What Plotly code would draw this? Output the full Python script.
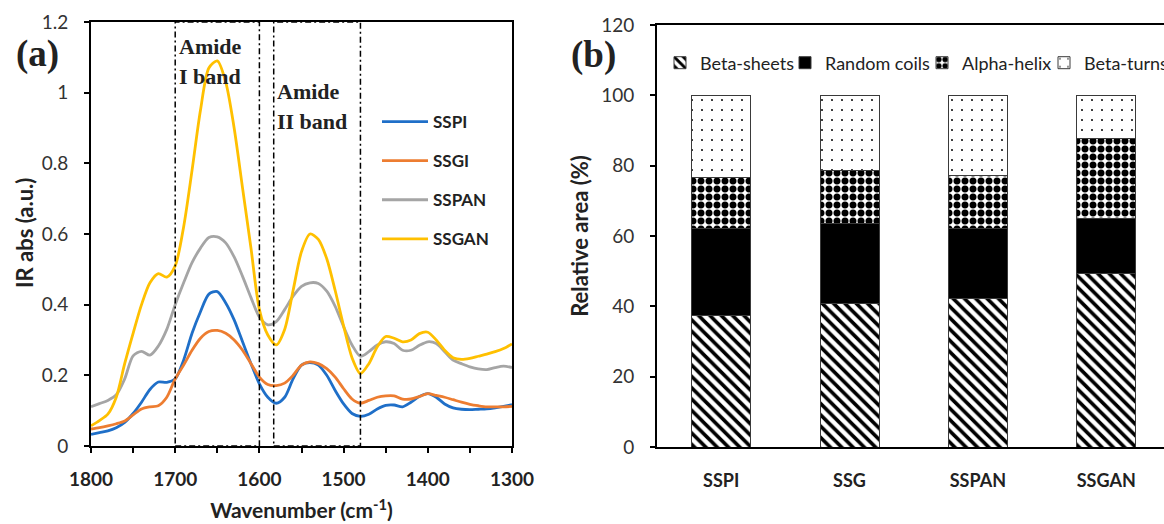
import plotly.graph_objects as go

# ---------------- data: panel (a) FTIR spectra ----------------
wavenumber = [1800, 1790, 1780, 1770, 1760, 1750, 1740, 1730, 1720, 1710,
              1700, 1690, 1680, 1670, 1660, 1650, 1640, 1630, 1620, 1610,
              1600, 1590, 1580, 1570, 1560, 1550, 1540, 1530, 1520, 1510,
              1500, 1490, 1480, 1470, 1460, 1450, 1440, 1430, 1420, 1410,
              1400, 1390, 1380, 1370, 1360, 1350, 1340, 1330, 1320, 1310, 1300]

sspi = [0.033, 0.038, 0.043, 0.052, 0.067, 0.092, 0.124, 0.160, 0.181, 0.180,
        0.190, 0.243, 0.319, 0.380, 0.430, 0.437, 0.405, 0.357, 0.295, 0.233,
        0.176, 0.138, 0.121, 0.138, 0.190, 0.229, 0.236, 0.229, 0.200, 0.157,
        0.119, 0.092, 0.084, 0.090, 0.105, 0.115, 0.116, 0.111, 0.124, 0.140,
        0.148, 0.138, 0.119, 0.108, 0.104, 0.103, 0.104, 0.105, 0.108, 0.112, 0.117]

ssgi = [0.048, 0.052, 0.057, 0.063, 0.071, 0.088, 0.105, 0.111, 0.114, 0.138,
        0.190, 0.229, 0.271, 0.305, 0.324, 0.327, 0.319, 0.300, 0.271, 0.233,
        0.195, 0.174, 0.171, 0.178, 0.200, 0.229, 0.238, 0.233, 0.219, 0.195,
        0.162, 0.133, 0.121, 0.129, 0.138, 0.142, 0.142, 0.133, 0.133, 0.140,
        0.148, 0.143, 0.138, 0.131, 0.124, 0.118, 0.114, 0.111, 0.111, 0.111, 0.112]

sspan = [0.111, 0.120, 0.129, 0.145, 0.190, 0.255, 0.268, 0.257, 0.283, 0.330,
         0.400, 0.462, 0.519, 0.560, 0.590, 0.592, 0.575, 0.535, 0.480, 0.420,
         0.365, 0.343, 0.352, 0.386, 0.424, 0.452, 0.462, 0.460, 0.438, 0.395,
         0.338, 0.286, 0.254, 0.267, 0.286, 0.295, 0.290, 0.271, 0.271, 0.285,
         0.295, 0.290, 0.267, 0.243, 0.233, 0.224, 0.218, 0.216, 0.222, 0.226, 0.222]

ssgan = [0.057, 0.072, 0.090, 0.138, 0.233, 0.319, 0.400, 0.462, 0.488, 0.478,
         0.510, 0.620, 0.780, 0.950, 1.070, 1.090, 1.030, 0.900, 0.730, 0.560,
         0.386, 0.314, 0.286, 0.330, 0.440, 0.550, 0.600, 0.585, 0.530, 0.440,
         0.340, 0.250, 0.205, 0.233, 0.281, 0.310, 0.305, 0.295, 0.300, 0.318,
         0.322, 0.300, 0.271, 0.250, 0.245, 0.248, 0.254, 0.260, 0.267, 0.276, 0.289]

series_names = ["SSPI", "SSGI", "SSPAN", "SSGAN"]
series_colors = ["#1F6FC8", "#ED7D31", "#A5A5A5", "#FFC000"]

band_edges = [(1700, 1600), (1583, 1480)]
band_labels = [("Amide", "I band"), ("Amide", "II band")]

# ---------------- data: panel (b) secondary structure ----------------
samples = ["SSPI", "SSG", "SSPAN", "SSGAN"]
beta_sheets = [37.3, 40.7, 42.1, 49.4]
random_coils = [24.8, 22.8, 20.0, 15.6]
alpha_helix = [14.4, 15.1, 15.0, 22.6]
beta_turns = [23.5, 21.4, 22.9, 12.4]

FONT = "Lato"
SERIF = "Liberation Serif"
W, H = 1164, 524

fig = go.Figure()

spectra = [sspi, ssgi, sspan, ssgan]
for name, col, vals in zip(series_names, series_colors, spectra):
    fig.add_trace(go.Scatter(
        x=wavenumber, y=vals, name=name, mode="lines",
        line=dict(color=col, width=2.8, shape="spline", smoothing=0.8),
        xaxis="x", yaxis="y", legend="legend", legendgroup=name,
    ))

struct = [
    ("Beta-sheets", beta_sheets, dict(color="white", pattern=dict(shape="\\", fgcolor="black", bgcolor="white", size=8, solidity=0.45, fillmode="replace"))),
    ("Random coils", random_coils, dict(color="black")),
    ("Alpha-helix", alpha_helix, dict(color="white", pattern=dict(shape=".", fgcolor="black", bgcolor="white", size=8, solidity=0.6, fillmode="replace"))),
    ("Beta-turns", beta_turns, dict(color="white", pattern=dict(shape=".", fgcolor="black", bgcolor="white", size=10, solidity=0.03, fillmode="replace"))),
]
bar_legends = ["legend2", "legend3", "legend4", "legend5"]
legend_text_x = [698, 823, 960, 1082]
for (name, vals, mk), lg in zip(struct, bar_legends):
    mk = dict(mk)
    mk["line"] = dict(color="#3a3a3a", width=1)
    fig.add_trace(go.Bar(
        x=samples, y=vals, name=name, marker=mk, width=0.46,
        xaxis="x2", yaxis="y2", legend=lg,
    ))

# band boxes (dash-dot)
for lo, hi in band_edges:
    fig.add_shape(type="rect", xref="x", yref="y", x0=lo, x1=hi, y0=0, y1=1.2,
                  line=dict(color="black", width=1.5, dash="6px,3px,2px,3px"),
                  fillcolor="rgba(0,0,0,0)", layer="above")

label_y = [(1.13, 1.045), (1.003, 0.918)]
annotations = []
for (lo, hi), (l1, l2), (y1, y2) in zip(band_edges, band_labels, label_y):
    for txt, yy in ((l1, y1), (l2, y2)):
        annotations.append(dict(x=lo - 2, y=yy, xref="x", yref="y", text="<b>" + txt + "</b>", showarrow=False,
                                xanchor="left", yanchor="middle",
                                font=dict(family=SERIF, size=22, color="#222")))
annotations.append(dict(x=14 / W, y=1 - 54 / H, xref="paper", yref="paper", text="<b>(a)</b>",
                        showarrow=False, xanchor="left", yanchor="middle",
                        font=dict(family=SERIF, size=37, color="#222")))
annotations.append(dict(x=569 / W, y=1 - 55 / H, xref="paper", yref="paper", text="<b>(b)</b>",
                        showarrow=False, xanchor="left", yanchor="middle",
                        font=dict(family=SERIF, size=37, color="#222")))
# y-axis title of panel (a)
annotations.append(dict(x=25 / W, y=1 - 233 / H, xref="paper", yref="paper", text="<b>IR abs (a.u.)</b>",
                        showarrow=False, xanchor="center", yanchor="middle", textangle=-90,
                        font=dict(family=FONT, size=22, color="#222")))

layout_legends = {}
for lg, tx in zip(bar_legends, legend_text_x):
    layout_legends[lg] = dict(
        x=(tx - 38) / W, y=1 - 63 / H, xanchor="left", yanchor="middle",
        orientation="h", bgcolor="rgba(0,0,0,0)",
        font=dict(family=FONT, size=18, color="#222"), itemwidth=30,
    )

fig.update_layout(
    width=W, height=H, autosize=False,
    margin=dict(l=0, r=0, t=0, b=0, autoexpand=False),
    paper_bgcolor="white", plot_bgcolor="white",
    barmode="stack",
    font=dict(family=FONT, color="#222"),
    annotations=annotations,
    xaxis=dict(
        domain=[91 / W, 512 / W], range=[1800, 1300], dtick=100, automargin=False,
        showline=True, linecolor="black", linewidth=2, mirror=True,
        ticks="outside", ticklen=5, tickcolor="black", tickwidth=1.5,
        minor=dict(dtick=50, ticks="outside", ticklen=5, tickcolor="black", tickwidth=1.5),
        showgrid=False, zeroline=False, ticklabelstandoff=10,
        tickfont=dict(family=FONT, size=19, color="#222", weight="bold"),
        title=dict(text="<b>Wavenumber (cm<sup>-1</sup>)</b>", font=dict(family=FONT, size=21, color="#222"), standoff=15),
        anchor="y",
    ),
    yaxis=dict(
        domain=[1 - 446 / H, 1 - 22 / H], range=[0, 1.2], automargin=False,
        tickvals=[0, 0.2, 0.4, 0.6, 0.8, 1.0, 1.2], ticktext=["0", "0.2", "0.4", "0.6", "0.8", "1", "1.2"],
        showline=True, linecolor="black", linewidth=2, mirror=True,
        ticks="outside", ticklen=5, tickcolor="black", tickwidth=1.5,
        showgrid=False, zeroline=False, ticklabelstandoff=12,
        tickfont=dict(family=FONT, size=19, color="#333"),
        anchor="x",
    ),
    xaxis2=dict(
        domain=[657 / W, 1.0], range=[-0.5, 3.45], type="category", automargin=False,
        showline=True, linecolor="black", linewidth=2, mirror=True,
        ticks="", showgrid=False, zeroline=False, ticklabelstandoff=16,
        tickfont=dict(family=FONT, size=18, color="#222", weight="bold"),
        anchor="y2",
    ),
    yaxis2=dict(
        domain=[1 - 447 / H, 1 - 25 / H], range=[0, 120], dtick=20, automargin=False,
        showline=True, linecolor="black", linewidth=2,
        ticks="outside", ticklen=5, tickcolor="black", tickwidth=1.5,
        showgrid=False, zeroline=False, ticklabelstandoff=12,
        tickfont=dict(family=FONT, size=19, color="#333"),
        title=dict(text="<b>Relative area (%)</b>", font=dict(family=FONT, size=22, color="#222"), standoff=6),
        anchor="x2",
    ),
    legend=dict(
        x=377 / W, y=1 - 104 / H, xanchor="left", yanchor="top",
        orientation="v", tracegroupgap=14, bgcolor="rgba(0,0,0,0)",
        font=dict(family=FONT, size=17, color="#222", weight="bold"),
        itemwidth=46,
    ),
    **layout_legends,
)

fig.write_html("out.html")
